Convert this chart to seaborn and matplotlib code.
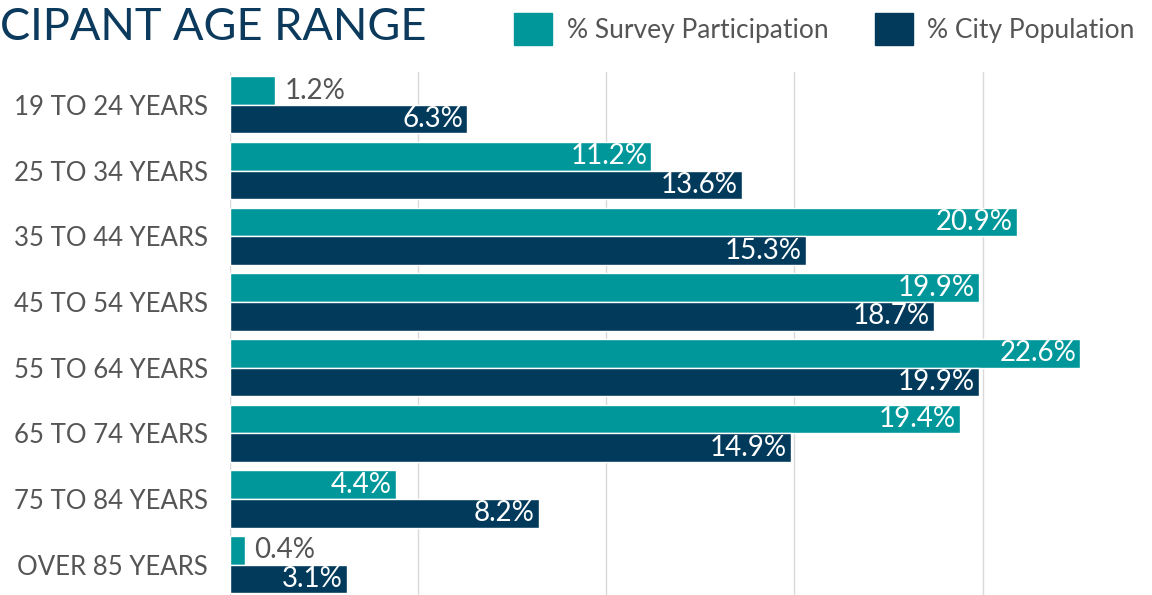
import matplotlib
matplotlib.use("Agg")
import matplotlib.pyplot as plt
import matplotlib.patches as mpatches
import pandas as pd
import seaborn as sns

# data
age_groups = ["19 TO 24 YEARS", "25 TO 34 YEARS", "35 TO 44 YEARS", "45 TO 54 YEARS",
              "55 TO 64 YEARS", "65 TO 74 YEARS", "75 TO 84 YEARS", "OVER 85 YEARS"]
survey_pct = [1.2, 11.2, 20.9, 19.9, 22.6, 19.4, 4.4, 0.4]
city_pct = [6.3, 13.6, 15.3, 18.7, 19.9, 14.9, 8.2, 3.1]
series_names = ["% Survey Participation", "% City Population"]
colors = ["#00979a", "#023a5c"]
title = "CIPANT AGE RANGE"

df = pd.concat([
    pd.DataFrame({"age": age_groups, "pct": survey_pct, "series": series_names[0]}),
    pd.DataFrame({"age": age_groups, "pct": city_pct, "series": series_names[1]}),
])

sns.set_style("white")
plt.rcParams["font.family"] = ["Lato", "DejaVu Sans"]

fig = plt.figure(figsize=(11.52, 5.95), dpi=100)
ax = fig.add_axes([230 / 1152, 0, 1 - 230 / 1152, 1 - 72 / 595])

sns.barplot(data=df, y="age", x="pct", hue="series", orient="h",
            palette=colors, width=0.87, gap=0, saturation=1,
            legend=False, ax=ax)

ax.set_xlim(0, 24.5)
ax.set_ylim(7.46, -0.5)
ax.set_xticks([0, 5, 10, 15, 20])
ax.set_xticklabels([])
ax.xaxis.grid(True, color="#d9d9d9", linewidth=1)
ax.set_axisbelow(True)
for s in ax.spines.values():
    s.set_visible(False)
ax.set_xlabel("")
ax.set_ylabel("")
ax.tick_params(axis="y", length=0, pad=16, labelsize=18.5, labelcolor="#555555")
ax.tick_params(axis="x", length=0)

# value labels: inside the bar end in white, outside in gray when the bar is short
for cont in ax.containers:
    for bar in cont:
        w = bar.get_width()
        yc = bar.get_y() + bar.get_height() / 2
        if w < 2:
            ax.text(w + 0.25, yc, f"{w:.1f}%", ha="left", va="center",
                    fontsize=20, color="#555555")
        else:
            ax.text(w - 0.1, yc, f"{w:.1f}%", ha="right", va="center",
                    fontsize=20, color="white")

fig.text(0, 1 - 28 / 595, title, ha="left", va="center",
         fontsize=32.5, color="#0b3a5c")

handles = [mpatches.Patch(color=c, label=n) for c, n in zip(colors, series_names)]
fig.legend(handles=handles, loc="center left", bbox_to_anchor=(514 / 1152, 1 - 29 / 595),
           ncol=2, frameon=False, fontsize=19, labelcolor="#555555",
           handlelength=1.45, handleheight=1.45, handletextpad=0.55, columnspacing=1.75,
           borderaxespad=0, borderpad=0)

fig.savefig("out.png", dpi=100)
